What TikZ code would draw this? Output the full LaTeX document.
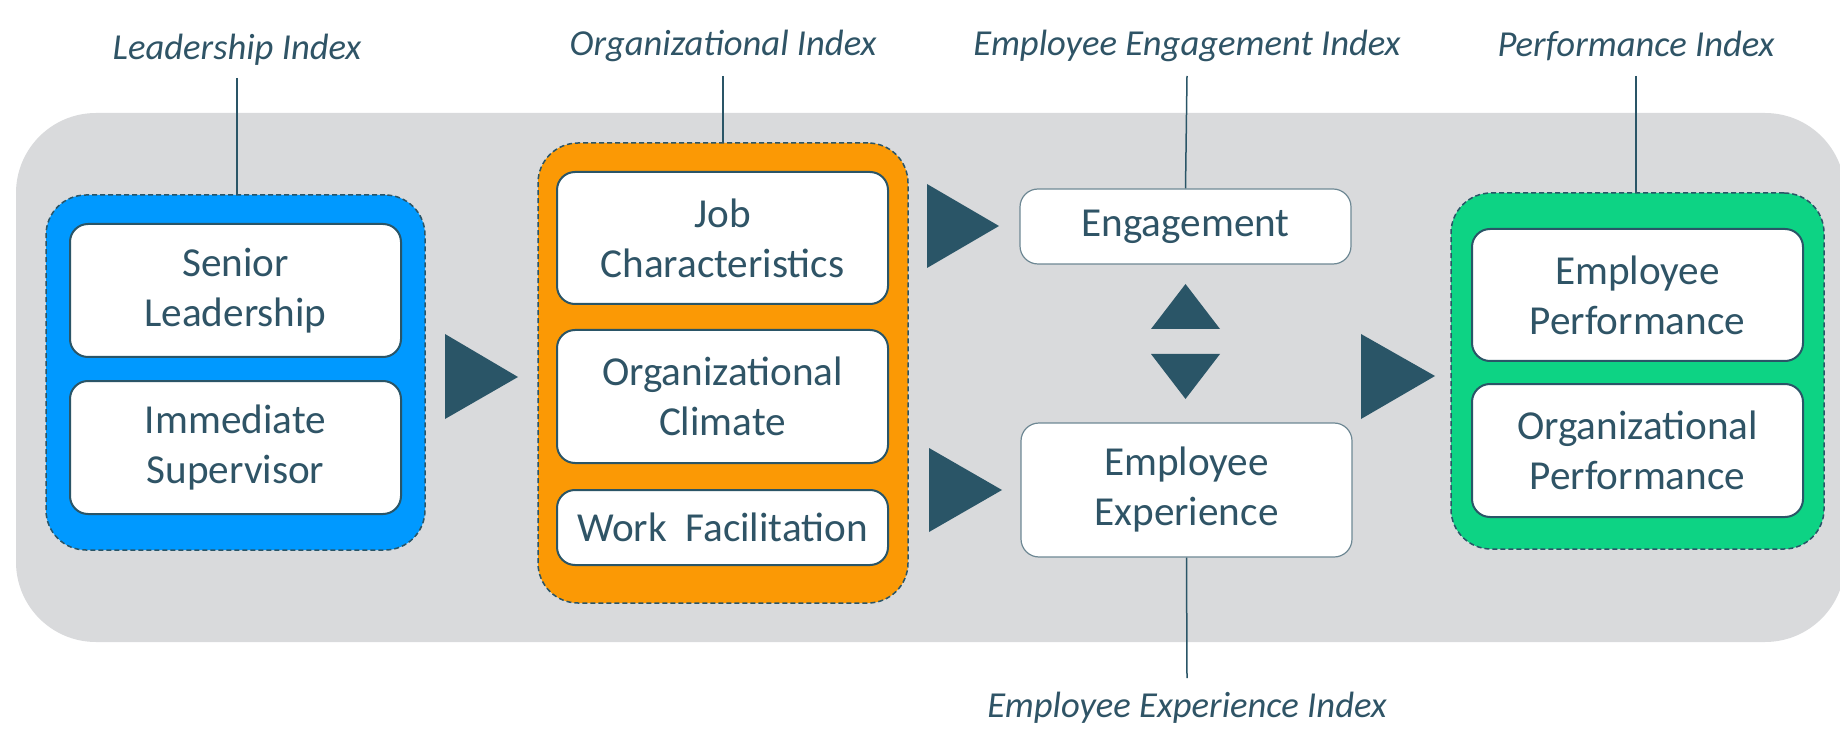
\documentclass[tikz,border=0pt]{standalone}
\usepackage{fontspec}
\setmainfont{Carlito}
\definecolor{bgray}{HTML}{D9DADC}
\definecolor{cblue}{HTML}{0099FF}
\definecolor{corange}{HTML}{FB9905}
\definecolor{cgreen}{HTML}{0DD384}
\definecolor{dteal}{HTML}{2A5567}
\definecolor{tteal}{HTML}{2F5466}
\definecolor{lteal}{HTML}{6E8894}
\begin{document}
\begin{tikzpicture}[x=0.5pt,y=-0.5pt,
  grp/.style={draw=dteal, line width=0.75pt, dash pattern=on 2.5pt off 1.5pt, rounded corners=20pt, inner sep=0pt},
  wbox/.style={draw=dteal, line width=1pt, fill=white, rounded corners=9pt, inner sep=0pt, align=center,
    text=tteal, font=\fontsize{20.6pt}{25pt}\selectfont, minimum width=165.5pt},
  tbox/.style={wbox, draw=lteal, line width=0.6pt},
  lbl/.style={text=tteal, font=\fontsize{18.3pt}{22pt}\selectfont\itshape, inner sep=0pt},
  tri/.style={fill=dteal},
  conn/.style={draw=dteal, line width=0.75pt}]
\useasboundingbox (0,0) rectangle (1840,732);
\begin{scope}
\clip (0,0) rectangle (1840,732);
\fill[bgray, rounded corners=40pt] (16,113) rectangle (1845,642);
\end{scope}

% groups
\node[grp, fill=cblue, minimum width=189.5pt, minimum height=177.5pt] (blue) at (235.5,372.5) {};
\node[grp, fill=corange, minimum width=185pt, minimum height=230pt] (orange) at (723,373) {};
\node[grp, fill=cgreen, minimum width=186.5pt, minimum height=178pt] (green) at (1637.5,371) {};

% white boxes
\node[wbox, minimum height=66.5pt] (sl) at (235.5,290.5) {Senior\\Leadership};
\node[wbox, minimum height=66.5pt] (is) at (235.5,447.5) {Immediate\\Supervisor};
\node[wbox, minimum height=66pt] (jc) at (722.5,238) {Job\\Characteristics};
\node[wbox, minimum height=66.5pt] (oc) at (722.5,396.5) {Organizational\\Climate};
\node[wbox, minimum height=37.5pt] (wf) at (722.5,527.5) {Work\hspace{0.45em}Facilitation};
\node[tbox, minimum height=37.5pt] (eng) at (1185.5,226.5) {Engagement};
\node[tbox, minimum height=67pt] (ee) at (1186.5,490) {Employee\\Experience};
\node[wbox, minimum height=66pt] (ep) at (1637.5,295) {Employee\\Performance};
\node[wbox, minimum height=66.5pt] (op) at (1637.5,450.5) {Organizational\\Performance};

% triangles
\fill[tri] (445,334) -- (445,419) -- (518,377) -- cycle;
\fill[tri] (927,184) -- (927,268) -- (999,226) -- cycle;
\fill[tri] (929,448) -- (929,532) -- (1002,490) -- cycle;
\fill[tri] (1361,334) -- (1361,419) -- (1435,376) -- cycle;
\fill[tri] (1151,329) -- (1220,329) -- (1185.5,284) -- cycle;
\fill[tri] (1151,354) -- (1220,354) -- (1185.5,399) -- cycle;

% labels
\node[lbl] (l1) at (237,50) {Leadership Index};
\node[lbl] (l2) at (723,46) {Organizational Index};
\node[lbl] (l3) at (1187,46) {Employee Engagement Index};
\node[lbl] (l4) at (1636,46) {Performance Index};
\node[lbl] (l5) at (1187,708) {Employee Experience Index};

\coordinate (c1) at (237,78);
\coordinate (c2) at (723,76);
\coordinate (c3) at (1187,76);
\coordinate (c4) at (1636,76);
\coordinate (c5) at (1187,678);

\draw[conn] (c1) -- (c1 |- blue.north);
\draw[conn] (c2) -- (c2 |- orange.north);
\draw[conn] (c3) -- (eng.north);
\draw[conn] (c4) -- (c4 |- green.north);
\draw[conn] (ee.south) -- (c5);
\end{tikzpicture}
\end{document}
